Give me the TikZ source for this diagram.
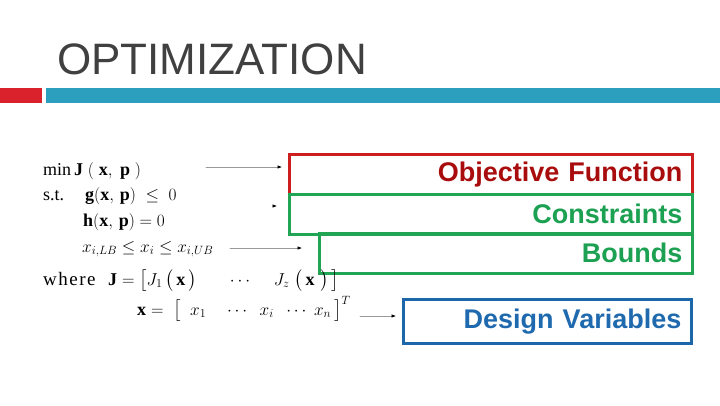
\documentclass[tikz,border=0pt]{standalone}
\usepackage{amsmath}
\usepackage{amssymb}
\usepackage{fontspec}
\setmainfont{Liberation Serif}
\newfontfamily\arialfont{Liberation Sans}
\usetikzlibrary{calc}
\usetikzlibrary{arrows.meta,positioning}
\definecolor{barred}{HTML}{DA222C}
\definecolor{barteal}{HTML}{2C9FBE}
\definecolor{titlegray}{HTML}{404040}
\definecolor{objred}{HTML}{CC1E1E}
\definecolor{objtext}{HTML}{A80C0C}
\definecolor{congreen}{HTML}{22A455}
\definecolor{context}{HTML}{1CA052}
\definecolor{desblue}{HTML}{1C66AA}
\definecolor{destext}{HTML}{1F6AAE}

\begin{document}
\begin{tikzpicture}[
  x=1pt,y=-1pt,
  line cap=round,
  >=Latex
]
  \tikzset{
    tag/.style={draw, line width=2.6pt, anchor=north west, align=right,
      inner xsep=10pt, inner ysep=0pt,
      font=\arialfont\fontsize{27}{30}\selectfont\bfseries},
    eqn/.style={anchor=base west, inner sep=0pt, font=\fontsize{18}{20}\selectfont},
    lead/.style={draw=gray!80, line width=0.6pt,
      -{Latex[length=4.5pt,width=3.5pt,color=black]}}
  }
  \useasboundingbox (0,0) rectangle (720,405);

  % Title and header bars
  \node[anchor=base west, inner sep=0pt, text=titlegray,
    font=\arialfont\fontsize{44}{48}\selectfont] (title) at (57,74) {OPTIMIZATION};
  \fill[barred] (0,88) rectangle (42,103);
  \fill[barteal] (46,88) rectangle (720,103);

  % Labelled boxes
  \node[tag, draw=objred, text=objtext, text width=383pt, minimum height=40pt]
    (obj) at (288,153) {Objective Function};
  \node[tag, draw=congreen, text=context, text width=383pt, minimum height=40pt]
    (cons) at (288,193) {Constraints};
  \node[tag, draw=congreen, text=context, text width=353pt, minimum height=40pt]
    (bnds) at (318,232) {Bounds};
  \node[tag, draw=desblue, text=destext, text width=268pt, minimum height=44pt]
    (dvar) at (402,298) {Design Variables};

  % Problem statement
  \node[eqn] (objf) at (43,175)
    {$\min \mathbf{J}\;(\;\mathbf{x},\;\mathbf{p}\;)$};
  \node[eqn] (st) at (43,200) {s.t.};
  \node[eqn] (ineq) at (85,200)
    {$\mathbf{g}(\mathbf{x},\,\mathbf{p})\;\le\;0$};
  \node[eqn] (eq) at (83,226) {$\mathbf{h}(\mathbf{x},\,\mathbf{p}) = 0$};
  \node[eqn, font=\fontsize{17}{19}\selectfont] (bnd) at (82,252)
    {$x_{i,LB} \le x_i \le x_{i,UB}$};
  \node[eqn, font=\fontsize{19}{21}\selectfont\addfontfeatures{LetterSpace=8.0}]
    (where) at (43,285) {where};
  \node[eqn] (jvec) at (108,285)
    {$\mathbf{J} = \bigl[J_1\,\bigl(\,\mathbf{x}\,\bigr)\quad\;\;\,\cdots\quad\,
      J_z\;\bigl(\,\mathbf{x}\,\,\bigr)\,\bigr]$};
  \node[eqn] (xvec) at (137,315)
    {$\mathbf{x} = \;\bigl[\;\;x_1\quad\cdots\;\;x_i\;\;\cdots\;
      x_n\,\bigr]^T$};

  % Leader arrows
  \coordinate (l1) at (206,167);
  \draw[lead] (l1) -- ($(obj.west |- l1)+(-6,0)$);
  \coordinate (l2) at (273,206);
  \draw[lead] (l2) -- ($(cons.west |- l2)+(-11,0)$);
  \coordinate (l3) at (230,248);
  \draw[lead] (l3) -- ($(bnds.west |- l3)+(-16,0)$);
  \coordinate (l4) at (360,316);
  \draw[lead] (l4) -- ($(dvar.west |- l4)+(-6,0)$);
\end{tikzpicture}
\end{document}
